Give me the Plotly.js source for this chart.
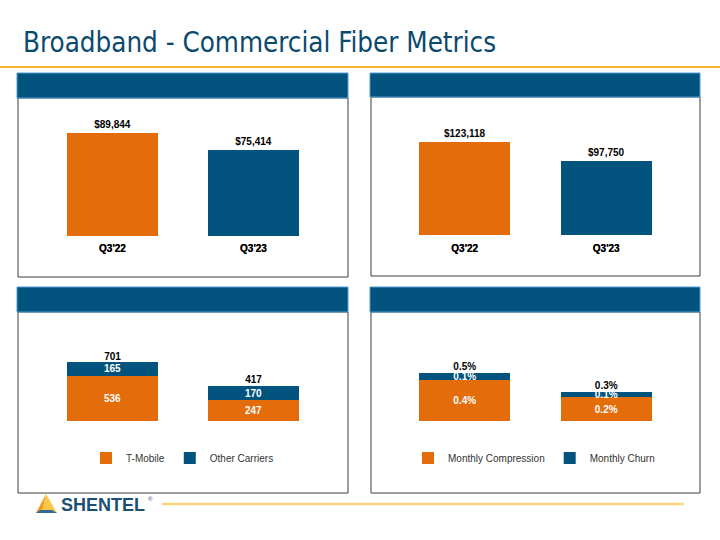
<!DOCTYPE html>
<html>
<head>
<meta charset="utf-8">
<script src="https://cdn.plot.ly/plotly-3.0.1.min.js"></script>
<style>html,body{margin:0;padding:0;background:#fff;}#chart{width:720px;height:540px;}</style>
</head>
<body>
<div id="chart"></div>
<script>
// ---- data ----
var categories = ["Q3'22", "Q3'23"];
var panel1Values = [89844, 75414];
var panel2Values = [123118, 97750];
var tMobile = [536, 247];
var otherCarriers = [165, 170];
var monthlyCompression = [0.0042, 0.0024];
var monthlyChurn = [0.0007, 0.0006];
var legendNames3 = ["T-Mobile", "Other Carriers"];
var legendNames4 = ["Monthly Compression", "Monthly Churn"];
var titleText = "Broadband - Commercial Fiber Metrics";

// ---- styles ----
var ORANGE = '#E46C0A';
var BLUE = '#02547E';
var W = 720, H = 540;
function px(x) { return x / W; }
function py(y) { return 1 - y / H; }
function sum(a, b) { return a.map(function (v, i) { return v + b[i]; }); }

var labelFont = { family: 'Liberation Sans, Arial, sans-serif', size: 10, color: '#000', weight: 'bold' };
var insideFont = { family: 'Liberation Sans, Arial, sans-serif', size: 10, color: '#fff', weight: 'bold' };

var traces = [];
// Panel 1
traces.push({ type: 'bar', x: categories, y: panel1Values, xaxis: 'x', yaxis: 'y',
  marker: { color: [ORANGE, BLUE], line: { width: 0 } }, texttemplate: '$%{y:,}', textposition: 'outside',
  textfont: labelFont, cliponaxis: false, showlegend: false, hoverinfo: 'skip' });
// Panel 2
traces.push({ type: 'bar', x: categories, y: panel2Values, xaxis: 'x2', yaxis: 'y2',
  marker: { color: [ORANGE, BLUE], line: { width: 0 } }, texttemplate: '$%{y:,}', textposition: 'outside',
  textfont: labelFont, cliponaxis: false, showlegend: false, hoverinfo: 'skip' });
// Panel 3
traces.push({ type: 'bar', name: legendNames3[0], x: categories, y: tMobile, xaxis: 'x3', yaxis: 'y3',
  marker: { color: ORANGE, line: { width: 0 } }, texttemplate: '%{y}', textposition: 'inside', insidetextanchor: 'middle',
  constraintext: 'none', textfont: insideFont, legend: 'legend', hoverinfo: 'skip' });
traces.push({ type: 'bar', name: legendNames3[1], x: categories, y: otherCarriers, xaxis: 'x3', yaxis: 'y3',
  marker: { color: BLUE, line: { width: 0 } }, texttemplate: '%{y}', textposition: 'inside', insidetextanchor: 'middle',
  constraintext: 'none', textfont: insideFont, legend: 'legend', hoverinfo: 'skip' });
traces.push({ type: 'scatter', mode: 'text', x: categories, y: sum(tMobile, otherCarriers), xaxis: 'x3', yaxis: 'y3',
  texttemplate: '%{y}', textposition: 'top center', textfont: labelFont, showlegend: false, hoverinfo: 'skip', cliponaxis: false });
// Panel 4
traces.push({ type: 'bar', name: legendNames4[0], x: categories, y: monthlyCompression, xaxis: 'x4', yaxis: 'y4',
  marker: { color: ORANGE, line: { width: 0 } }, texttemplate: '%{y:.1%}', textposition: 'inside', insidetextanchor: 'middle',
  constraintext: 'none', textfont: insideFont, legend: 'legend2', hoverinfo: 'skip' });
traces.push({ type: 'bar', name: legendNames4[1], x: categories, y: monthlyChurn, xaxis: 'x4', yaxis: 'y4',
  marker: { color: BLUE, line: { width: 0 } }, texttemplate: '%{y:.1%}', textposition: 'inside', insidetextanchor: 'middle',
  constraintext: 'none', textfont: insideFont, legend: 'legend2', hoverinfo: 'skip' });
traces.push({ type: 'scatter', mode: 'text', x: categories, y: sum(monthlyCompression, monthlyChurn), xaxis: 'x4', yaxis: 'y4',
  texttemplate: '%{y:.1%}', textposition: 'top center', textfont: labelFont, showlegend: false, hoverinfo: 'skip', cliponaxis: false });

function xax(left, right) {
  return { domain: [px(left), px(right)], type: 'category', range: [-0.5, 1.5], showgrid: false, zeroline: false,
    showline: false, ticks: '', ticklabelstandoff: 5, tickfont: labelFont, fixedrange: true };
}
function yax(bottom, top, maxv) {
  return { domain: [py(bottom), py(top)], range: [0, maxv], visible: false, showgrid: false, zeroline: false, fixedrange: true };
}

var shapes = [];
function panel(l, r, ht, hb, bb) {
  shapes.push({ type: 'rect', xref: 'paper', yref: 'paper', x0: px(l), x1: px(r), y0: py(bb), y1: py(hb),
    line: { color: '#3c3c3c', width: 1 }, fillcolor: 'rgba(0,0,0,0)' });
  shapes.push({ type: 'rect', xref: 'paper', yref: 'paper', x0: px(l - 1), x1: px(r), y0: py(hb), y1: py(ht),
    line: { color: '#4f9bd0', width: 1 }, fillcolor: BLUE });
}
panel(18, 348, 73, 98, 277);
panel(371, 700, 73, 97, 276);
panel(18, 348, 287, 312, 493);
panel(371, 700, 287, 312, 493);
// top rule
shapes.push({ type: 'line', xref: 'paper', yref: 'paper', x0: 0, x1: 1, y0: py(67), y1: py(67), line: { color: '#F7B52A', width: 2 } });
// footer rule
shapes.push({ type: 'line', xref: 'paper', yref: 'paper', x0: px(162), x1: px(684), y0: py(504), y1: py(504), line: { color: '#FCD67C', width: 2.5 } });
// logo triangle
function pth(pts) { return 'M' + pts.map(function (p) { return px(p[0]) + ',' + py(p[1]); }).join(' L') + ' Z'; }
shapes.push({ type: 'path', xref: 'paper', yref: 'paper', path: pth([[46, 494], [36, 513], [42, 513]]), fillcolor: '#F29A1E', line: { width: 0 } });
shapes.push({ type: 'path', xref: 'paper', yref: 'paper', path: pth([[46, 494], [42, 513], [57, 513]]), fillcolor: '#F9C74A', line: { width: 0 } });
shapes.push({ type: 'path', xref: 'paper', yref: 'paper', path: pth([[36, 513], [57, 513], [52, 510], [40, 510]]), fillcolor: '#2D6C96', line: { width: 0 } });

var annotations = [
  { xref: 'paper', yref: 'paper', x: px(59), y: py(505), xanchor: 'left', yanchor: 'middle', showarrow: false,
    text: 'SHENTEL', font: { family: 'Liberation Sans, Arial, sans-serif', size: 18, weight: 'bold', color: '#1B4F74' } },
  { xref: 'paper', yref: 'paper', x: px(146), y: py(499), xanchor: 'left', yanchor: 'middle', showarrow: false,
    text: '®', font: { family: 'Liberation Sans, Arial, sans-serif', size: 6, color: '#1B4F74' } }
];

var legendFont = { family: 'Liberation Sans, Arial, sans-serif', size: 10, color: '#333' };
var layout = {
  width: W, height: H, margin: { l: 0, r: 0, t: 0, b: 0 }, paper_bgcolor: '#fff', plot_bgcolor: 'rgba(0,0,0,0)',
  title: { text: titleText, x: px(23), xanchor: 'left', xref: 'paper', y: py(42), yref: 'paper', yanchor: 'middle',
    font: { family: 'DejaVu Sans Condensed, DejaVu Sans, sans-serif', size: 27.5, color: '#0B4A6F' } },
  barmode: 'stack', bargap: 0.355,
  xaxis: xax(42, 324), yaxis: yax(236, 236 - 114.6, 100000),
  xaxis2: xax(394, 677), yaxis2: yax(235, 235 - 113.3, 150000),
  xaxis3: xax(42, 324), yaxis3: yax(421, 421 - 75.7, 900),
  xaxis4: xax(394, 677), yaxis4: yax(421, 421 - 78.4, 0.008),
  showlegend: true,
  legend: { orientation: 'h', x: px(86), xanchor: 'left', y: py(458), yanchor: 'middle', font: legendFont,
    traceorder: 'normal', bgcolor: 'rgba(0,0,0,0)' },
  legend2: { orientation: 'h', x: px(408), xanchor: 'left', y: py(458), yanchor: 'middle', font: legendFont,
    traceorder: 'normal', bgcolor: 'rgba(0,0,0,0)' },
  shapes: shapes, annotations: annotations
};

Plotly.newPlot('chart', traces, layout, { staticPlot: true, displayModeBar: false });
</script>
</body>
</html>
